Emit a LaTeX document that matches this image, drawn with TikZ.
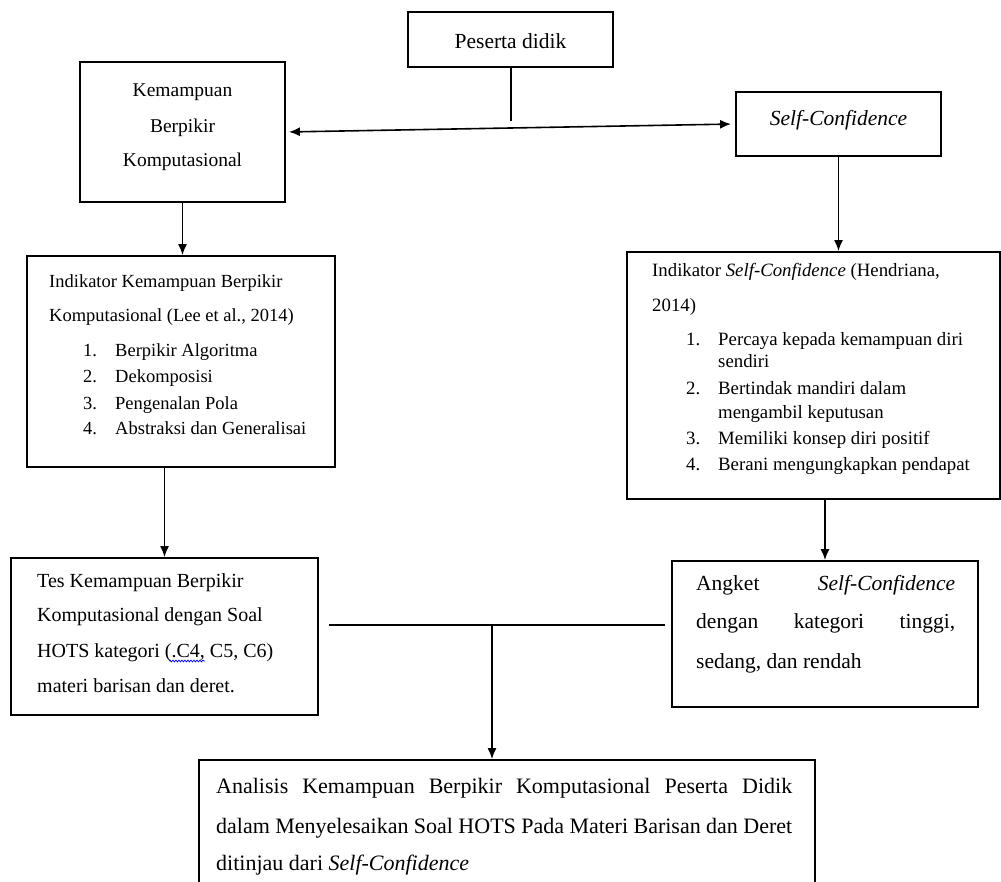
\documentclass[tikz,border=0pt]{standalone}
\usepackage{fontspec}
\setmainfont{Liberation Serif}
\usetikzlibrary{arrows.meta,decorations.pathmorphing}
\newcommand{\fsA}{\fontsize{18.5}{22}\selectfont}
\newcommand{\fsR}{\fontsize{18.8}{22}\selectfont}
\newcommand{\fsB}{\fontsize{19.5}{23}\selectfont}
\newcommand{\fsT}{\fontsize{20}{23}\selectfont}
\newcommand{\fsC}{\fontsize{21.5}{25}\selectfont}
\newcommand{\fsD}{\fontsize{22}{26}\selectfont}
\begin{document}
\begin{tikzpicture}[x=1pt,y=-1pt,
  box/.style={draw, line width=1.8pt, inner sep=0pt},
  conn/.style={line width=1.6pt},
  arr/.style={conn, -{Latex[length=11pt,width=9pt]}},
  darr/.style={conn, {Latex[length=11pt,width=9pt]}-{Latex[length=11pt,width=9pt]}},
  txt/.style={inner sep=0pt, anchor=base west},
  ctxt/.style={inner sep=0pt, anchor=base}]
\useasboundingbox (0,0) rectangle (1001,882);
% boxes
\node[box, minimum width=205pt, minimum height=55pt] (pes) at (510.5,39.5) {};
\node[box, minimum width=205pt, minimum height=140pt] (kem) at (182.5,132) {};
\node[box, minimum width=205pt, minimum height=64pt] (self) at (838.5,124) {};
\node[box, minimum width=308pt, minimum height=211pt] (ind1) at (181,361.5) {};
\node[box, minimum width=373pt, minimum height=247pt] (ind2) at (813.5,375.5) {};
\node[box, minimum width=307pt, minimum height=157pt] (tes) at (164.5,636.5) {};
\node[box, minimum width=306pt, minimum height=146pt] (ang) at (825,634) {};
\node[box, minimum width=616pt, minimum height=150pt] (bot) at (507,835) {};
% texts
\node[inner sep=0pt] (tpes) at (510.5,41) {\fsC Peserta didik};
\node[ctxt] (tkem1) at (182.5,97) {\fsB Kemampuan};
\node[ctxt] (tkem2) at (182.5,133) {\fsB Berpikir};
\node[ctxt] (tkem3) at (182.5,167) {\fsB Komputasional};
\node[ctxt] (tself) at (838.5,126) {\fsC\itshape Self-Confidence};
% indicator left
\node[txt] (i1a) at (49,288) {\fsA Indikator Kemampuan Berpikir};
\node[txt] (i1b) at (49,322) {\fsA Komputasional (Lee et al., 2014)};
\node[txt] (i1n1) at (83,356) {\fsA 1.};
\node[txt] (i1t1) at (115,356) {\fsA Berpikir Algoritma};
\node[txt] (i1n2) at (83,383) {\fsA 2.};
\node[txt] (i1t2) at (115,383) {\fsA Dekomposisi};
\node[txt] (i1n3) at (83,409) {\fsA 3.};
\node[txt] (i1t3) at (115,409) {\fsA Pengenalan Pola};
\node[txt] (i1n4) at (83,434) {\fsA 4.};
\node[txt] (i1t4) at (115,434) {\fsA Abstraksi dan Generalisai};
% indicator right
\node[txt] (i2a) at (652,277) {\fsR Indikator \textit{Self-Confidence} (Hendriana,};
\node[txt] (i2b) at (652,312) {\fsR 2014)};
\node[txt] (i2n1) at (686,345) {\fsR 1.};
\node[txt] (i2t1) at (718,345) {\fsR Percaya kepada kemampuan diri};
\node[txt] (i2t1b) at (718,368) {\fsR sendiri};
\node[txt] (i2n2) at (686,395) {\fsR 2.};
\node[txt] (i2t2) at (718,395) {\fsR Bertindak mandiri dalam};
\node[txt] (i2t2b) at (718,418) {\fsR mengambil keputusan};
\node[txt] (i2n3) at (686,444) {\fsR 3.};
\node[txt] (i2t3) at (718,444) {\fsR Memiliki konsep diri positif};
\node[txt] (i2n4) at (686,470) {\fsR 4.};
\node[txt] (i2t4) at (718,470) {\fsR Berani mengungkapkan pendapat};
% tes
\node[txt] (t1) at (37,587) {\fsT Tes Kemampuan Berpikir};
\node[txt] (t2) at (37,621) {\fsT Komputasional dengan Soal};
\node[txt] (t3) at (37,657) {\fsT HOTS kategori (.C4, C5, C6)};
\node[txt] (t4) at (37,692) {\fsT materi barisan dan deret.};
\draw[blue, line width=0.7pt, decorate, decoration={snake, amplitude=0.9pt, segment length=3pt}] (169,661) -- (205,661);
% angket
\node[txt] (a1) at (696,590) {\fsC\makebox[259pt][s]{Angket \textit{Self-Confidence}}};
\node[txt] (a2) at (696,628) {\fsC\makebox[259pt][s]{dengan kategori tinggi,}};
\node[txt] (a3) at (696,668) {\fsC sedang, dan rendah};
% bottom
\node[txt] (b1) at (216,793) {\fsD\makebox[576pt][s]{Analisis Kemampuan Berpikir Komputasional Peserta Didik}};
\node[txt] (b2) at (216,833) {\fsD\makebox[576pt][s]{dalam Menyelesaikan Soal HOTS Pada Materi Barisan dan Deret}};
\node[txt] (b3) at (216,870) {\fsD ditinjau dari \textit{Self-Confidence}};
% connectors
\coordinate (pj) at (511,121);
\draw[conn] (pes.south -| pj) -- (pj);
\draw[darr, shorten <=3pt, shorten >=4pt] (kem.east) -- (self.west);
\draw[arr] (kem.south) -- (kem.south |- ind1.north);
\draw[arr] (self.south) -- (self.south |- ind2.north);
\draw[arr] (tes.north |- ind1.south) -- (tes.north);
\draw[arr] (ang.north |- ind2.south) -- (ang.north);
\coordinate (jl) at (329,625);
\coordinate (jr) at (665,625);
\coordinate (jm) at (492,625);
\draw[conn] (jl) -- (jr);
\draw[arr] (jm) -- (jm |- bot.north);
\end{tikzpicture}
\end{document}
